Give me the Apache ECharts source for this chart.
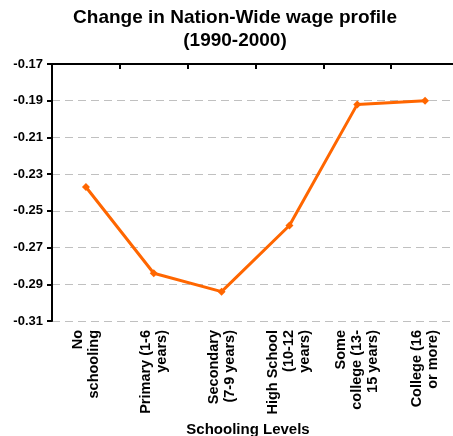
<!DOCTYPE html>
<html>
<head>
<meta charset="utf-8">
<style>
  html, body { margin: 0; padding: 0; background: #fff; }
  #chart { width: 453px; height: 436px; }
</style>
<script src="https://cdn.jsdelivr.net/npm/echarts@6/dist/echarts.min.js"></script>
</head>
<body>
<div id="chart"></div>
<script>
// Schooling level categories (bottom axis labels)
const categories = [
  'No\nschooling',
  'Primary (1-6\nyears)',
  'Secondary\n(7-9 years)',
  'High School\n(10-12\nyears)',
  'Some\ncollege (13-\n15 years)',
  'College (16\nor more)'
];
// Change in wage profile, 1990-2000
const wageChange = [-0.237, -0.284, -0.294, -0.258, -0.192, -0.190];
// Value axis tick positions
const yTicks = [-0.31, -0.29, -0.27, -0.25, -0.23, -0.21, -0.19, -0.17];

const FONT = "'Liberation Sans', Arial, sans-serif";
const chart = echarts.init(document.getElementById('chart'), null, { renderer: 'canvas' });

chart.setOption({
  animation: false,
  backgroundColor: '#ffffff',
  title: {
    text: 'Change in Nation-Wide wage profile\n(1990-2000)',
    left: 235,
    top: 6,
    textAlign: 'center',
    padding: 0,
    textStyle: {
      fontFamily: FONT, fontWeight: 'bold', fontSize: 19,
      lineHeight: 23, color: '#000'
    }
  },
  // plot area runs slightly past the right edge of the canvas
  grid: { left: 52, top: 64, width: 407, height: 257, containLabel: false, outerBoundsMode: 'none' },
  xAxis: [
    {
      type: 'category',
      data: categories,
      position: 'bottom',
      boundaryGap: true,
      axisLine: { show: false },
      axisTick: { show: false },
      axisLabel: {
        rotate: 90, margin: 9, interval: 0,
        fontFamily: FONT, fontWeight: 'bold', fontSize: 14.5,
        lineHeight: 16, color: '#000'
      },
      name: 'Schooling Levels',
      nameLocation: 'middle',
      nameGap: 94,
      nameTextStyle: {
        fontFamily: FONT, fontWeight: 'bold', fontSize: 15,
        color: '#000', padding: [0, 15, 0, 0]
      }
    },
    {
      type: 'category',
      data: categories,
      position: 'top',
      boundaryGap: true,
      axisLine: { show: true, lineStyle: { color: '#000', width: 2 } },
      axisTick: {
        show: true, inside: true, length: 5, interval: 0,
        lineStyle: { color: '#000', width: 2 }
      },
      axisLabel: { show: false, interval: 0 }
    }
  ],
  yAxis: {
    type: 'value',
    min: -0.31,
    max: -0.17,
    axisLine: { show: true, lineStyle: { color: '#000', width: 2 } },
    axisTick: {
      show: true, length: 5, customValues: yTicks,
      lineStyle: { color: '#000', width: 2 }
    },
    axisLabel: {
      customValues: yTicks,
      margin: 9,
      fontFamily: FONT, fontWeight: 'bold', fontSize: 13, color: '#000',
      formatter: v => v.toFixed(2)
    },
    splitLine: {
      show: true,
      lineStyle: { color: '#c0c0c0', width: 1, type: [8, 5] }
    }
  },
  series: [{
    type: 'line',
    xAxisIndex: 0,
    data: wageChange,
    symbol: 'diamond',
    symbolSize: 8,
    lineStyle: { color: '#ff6600', width: 3 },
    itemStyle: { color: '#ff6600' }
  }]
});
</script>
</body>
</html>
